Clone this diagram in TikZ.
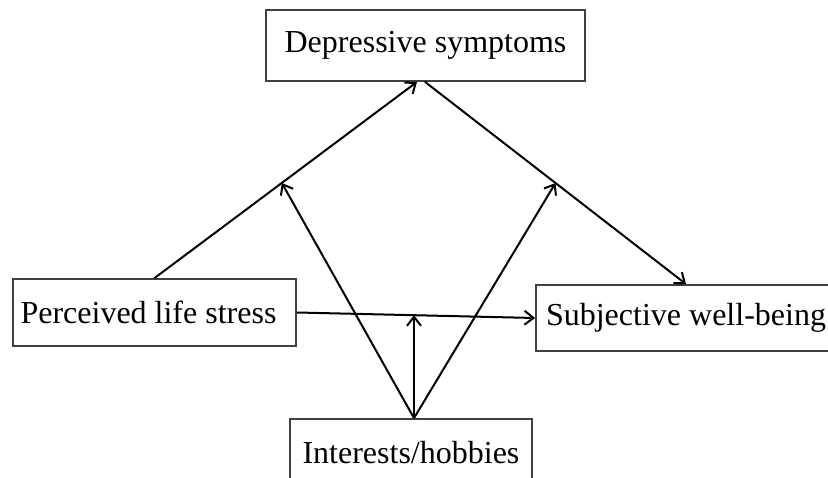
\documentclass[tikz,border=0pt]{standalone}
\usepackage{fontspec}
\setmainfont{Liberation Serif}
\usetikzlibrary{calc, arrows.meta}

\begin{document}
\begin{tikzpicture}[
    x=1pt, y=-1pt,
    box/.style={
        rectangle, draw=black!75, line width=1.8pt,
        inner sep=0pt, align=center,
        font=\fontsize{32}{38}\selectfont
    },
    arr/.style={-{Straight Barb[length=9pt,width=14pt,line width=2pt]}, line width=2pt}
]
\useasboundingbox (0,0) rectangle (828,478);
\clip (0,0) rectangle (828,478);

% Nodes
\node[box, minimum width=319pt, minimum height=71pt] (ds) at (425.5,45.5) {Depressive symptoms};
\node[box, minimum width=283pt, minimum height=67pt] (ps) at (154.5,312.5) {\hspace*{-12pt}Perceived life stress};
\node[box, minimum width=300pt, minimum height=66pt] (sw) at (686,318) {Subjective well-being};
\node[box, minimum width=242pt, minimum height=67pt] (ih) at (411,452.5) {Interests/hobbies};

% Helper points
\coordinate (dsin) at ([xshift=-8.5pt]ds.south);
\coordinate (dsout) at ([xshift=-0.5pt]ds.south);
\coordinate (ihtop) at ([xshift=3pt]ih.north);
\coordinate (m1) at ($(ps.north)!0.485!(dsin)$);
\coordinate (m2) at ($(dsout)!0.5!(sw.north)$);
\coordinate (m3) at ($(ps.east)!0.49!(sw.west)$);

% Arrows
\draw[arr] (ps.north) -- (dsin);
\draw[arr] (dsout) -- (sw.north);
\draw[arr] (ps.east) -- (sw.west);
\draw[arr] (ihtop) -- (m1);
\draw[arr] (ihtop) -- (m2);
\draw[arr] (ihtop) -- (ihtop |- m3);

\end{tikzpicture}
\end{document}
